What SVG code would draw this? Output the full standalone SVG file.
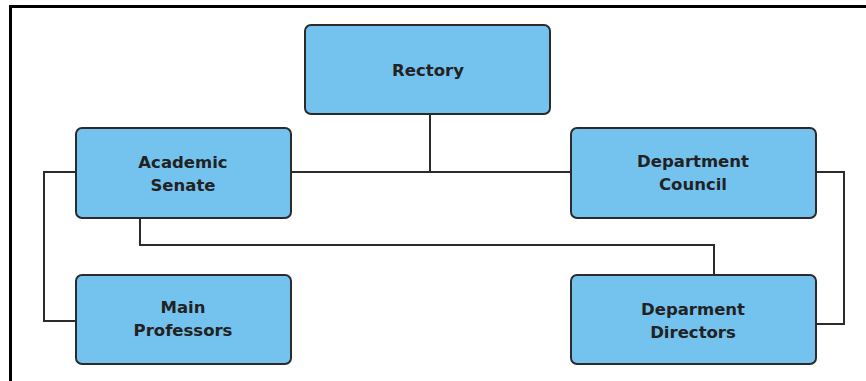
<svg xmlns="http://www.w3.org/2000/svg" width="866" height="381" viewBox="0 0 866 381">
<style>
.box{fill:#74c3ef;stroke:#2b2b2b;stroke-width:2}
.t{font-family:"DejaVu Sans",Verdana,sans-serif;font-weight:bold;font-size:16.5px;fill:#222;text-anchor:middle}
.c{fill:none;stroke:#2b2b2b;stroke-width:2}
</style>
<rect width="866" height="381" fill="#fff"/>
<path d="M10.5 381V6.5H866" fill="none" stroke="#000" stroke-width="3"/>
<g id="connectors">
<path class="c" d="M430 114V172"/>
<path class="c" d="M291 172H571"/>
<path class="c" d="M76 172H44V321H76"/>
<path class="c" d="M140 218V245H714V275"/>
<path class="c" d="M816 172H844V324H816"/>
</g>
<g id="rectory"><rect class="box" x="305" y="25" width="245" height="89" rx="6"/><text class="t" x="428" y="76">Rectory</text></g>
<g id="academic-senate"><rect class="box" x="76" y="128" width="215" height="90" rx="6"/><text class="t" x="183" y="168">Academic</text><text class="t" x="183" y="191">Senate</text></g>
<g id="department-council"><rect class="box" x="571" y="128" width="245" height="90" rx="6"/><text class="t" x="693" y="167">Department</text><text class="t" x="693" y="190">Council</text></g>
<g id="main-professors"><rect class="box" x="76" y="275" width="215" height="89" rx="6"/><text class="t" x="183" y="313">Main</text><text class="t" x="183" y="336">Professors</text></g>
<g id="department-directors"><rect class="box" x="571" y="275" width="245" height="89" rx="6"/><text class="t" x="693" y="315">Deparment</text><text class="t" x="693" y="338">Directors</text></g>
</svg>
